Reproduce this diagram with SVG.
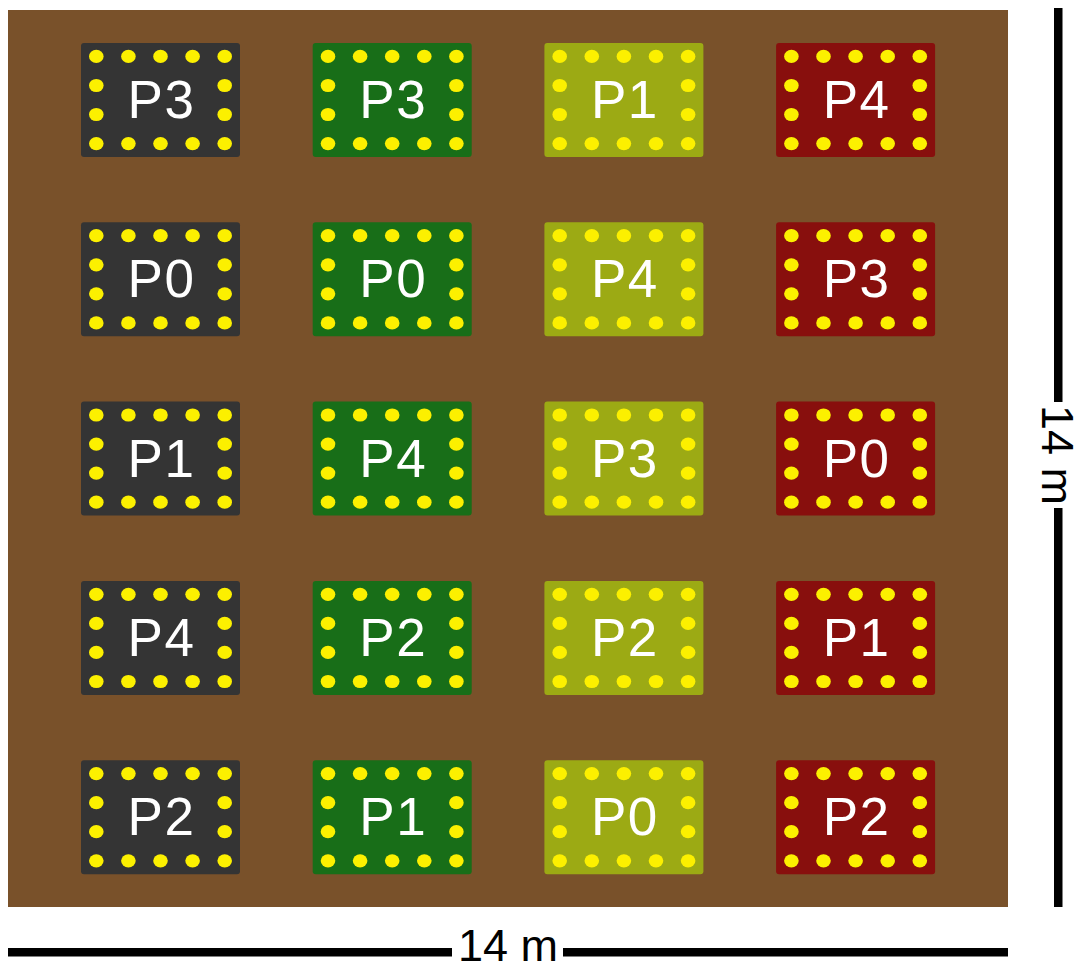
<svg xmlns="http://www.w3.org/2000/svg" xmlns:xlink="http://www.w3.org/1999/xlink" width="1086" height="971" viewBox="0 0 1086 971">
<style>
.plot{stroke:none}
.c1{fill:#343434}
.c2{fill:#186E18}
.c3{fill:#9CAA14}
.c4{fill:#880F0D}
.dot{fill:#FCF000}
.lbl{font-family:"Liberation Sans",Arial,sans-serif;font-size:53px;fill:#FFFFFF;text-anchor:middle;letter-spacing:1.5px}
.scale{font-family:"Liberation Sans",Arial,sans-serif;font-size:45px;fill:#000000;text-anchor:middle}
.bar{fill:#000000}
</style>
<defs>
<g id="dots">
<ellipse class="dot" cx="15.3" cy="13.4" rx="7.3" ry="6.6"/>
<ellipse class="dot" cx="47.4" cy="13.4" rx="7.3" ry="6.6"/>
<ellipse class="dot" cx="79.5" cy="13.4" rx="7.3" ry="6.6"/>
<ellipse class="dot" cx="111.6" cy="13.4" rx="7.3" ry="6.6"/>
<ellipse class="dot" cx="143.7" cy="13.4" rx="7.3" ry="6.6"/>
<ellipse class="dot" cx="15.3" cy="42.5" rx="7.3" ry="6.6"/>
<ellipse class="dot" cx="143.7" cy="42.5" rx="7.3" ry="6.6"/>
<ellipse class="dot" cx="15.3" cy="71.5" rx="7.3" ry="6.6"/>
<ellipse class="dot" cx="143.7" cy="71.5" rx="7.3" ry="6.6"/>
<ellipse class="dot" cx="15.3" cy="100.6" rx="7.3" ry="6.6"/>
<ellipse class="dot" cx="47.4" cy="100.6" rx="7.3" ry="6.6"/>
<ellipse class="dot" cx="79.5" cy="100.6" rx="7.3" ry="6.6"/>
<ellipse class="dot" cx="111.6" cy="100.6" rx="7.3" ry="6.6"/>
<ellipse class="dot" cx="143.7" cy="100.6" rx="7.3" ry="6.6"/>
</g>
</defs>
<rect x="0" y="0" width="1086" height="971" fill="#FFFFFF"/>
<rect id="field" x="8" y="10" width="1000" height="897" fill="#79512A"/>

<g id="plot-1-1" transform="translate(81,43)"><rect class="plot c1" width="159" height="114" rx="3"/><use xlink:href="#dots" href="#dots"/><text class="lbl" x="80.5" y="75">P3</text></g>
<g id="plot-1-2" transform="translate(81,222.3)"><rect class="plot c1" width="159" height="114" rx="3"/><use xlink:href="#dots" href="#dots"/><text class="lbl" x="80.5" y="75">P0</text></g>
<g id="plot-1-3" transform="translate(81,401.6)"><rect class="plot c1" width="159" height="114" rx="3"/><use xlink:href="#dots" href="#dots"/><text class="lbl" x="80.5" y="75">P1</text></g>
<g id="plot-1-4" transform="translate(81,580.9)"><rect class="plot c1" width="159" height="114" rx="3"/><use xlink:href="#dots" href="#dots"/><text class="lbl" x="80.5" y="75">P4</text></g>
<g id="plot-1-5" transform="translate(81,760.2)"><rect class="plot c1" width="159" height="114" rx="3"/><use xlink:href="#dots" href="#dots"/><text class="lbl" x="80.5" y="75">P2</text></g>

<g id="plot-2-1" transform="translate(312.7,43)"><rect class="plot c2" width="159" height="114" rx="3"/><use xlink:href="#dots" href="#dots"/><text class="lbl" x="80.5" y="75">P3</text></g>
<g id="plot-2-2" transform="translate(312.7,222.3)"><rect class="plot c2" width="159" height="114" rx="3"/><use xlink:href="#dots" href="#dots"/><text class="lbl" x="80.5" y="75">P0</text></g>
<g id="plot-2-3" transform="translate(312.7,401.6)"><rect class="plot c2" width="159" height="114" rx="3"/><use xlink:href="#dots" href="#dots"/><text class="lbl" x="80.5" y="75">P4</text></g>
<g id="plot-2-4" transform="translate(312.7,580.9)"><rect class="plot c2" width="159" height="114" rx="3"/><use xlink:href="#dots" href="#dots"/><text class="lbl" x="80.5" y="75">P2</text></g>
<g id="plot-2-5" transform="translate(312.7,760.2)"><rect class="plot c2" width="159" height="114" rx="3"/><use xlink:href="#dots" href="#dots"/><text class="lbl" x="80.5" y="75">P1</text></g>

<g id="plot-3-1" transform="translate(544.4,43)"><rect class="plot c3" width="159" height="114" rx="3"/><use xlink:href="#dots" href="#dots"/><text class="lbl" x="80.5" y="75">P1</text></g>
<g id="plot-3-2" transform="translate(544.4,222.3)"><rect class="plot c3" width="159" height="114" rx="3"/><use xlink:href="#dots" href="#dots"/><text class="lbl" x="80.5" y="75">P4</text></g>
<g id="plot-3-3" transform="translate(544.4,401.6)"><rect class="plot c3" width="159" height="114" rx="3"/><use xlink:href="#dots" href="#dots"/><text class="lbl" x="80.5" y="75">P3</text></g>
<g id="plot-3-4" transform="translate(544.4,580.9)"><rect class="plot c3" width="159" height="114" rx="3"/><use xlink:href="#dots" href="#dots"/><text class="lbl" x="80.5" y="75">P2</text></g>
<g id="plot-3-5" transform="translate(544.4,760.2)"><rect class="plot c3" width="159" height="114" rx="3"/><use xlink:href="#dots" href="#dots"/><text class="lbl" x="80.5" y="75">P0</text></g>

<g id="plot-4-1" transform="translate(776.1,43)"><rect class="plot c4" width="159" height="114" rx="3"/><use xlink:href="#dots" href="#dots"/><text class="lbl" x="80.5" y="75">P4</text></g>
<g id="plot-4-2" transform="translate(776.1,222.3)"><rect class="plot c4" width="159" height="114" rx="3"/><use xlink:href="#dots" href="#dots"/><text class="lbl" x="80.5" y="75">P3</text></g>
<g id="plot-4-3" transform="translate(776.1,401.6)"><rect class="plot c4" width="159" height="114" rx="3"/><use xlink:href="#dots" href="#dots"/><text class="lbl" x="80.5" y="75">P0</text></g>
<g id="plot-4-4" transform="translate(776.1,580.9)"><rect class="plot c4" width="159" height="114" rx="3"/><use xlink:href="#dots" href="#dots"/><text class="lbl" x="80.5" y="75">P1</text></g>
<g id="plot-4-5" transform="translate(776.1,760.2)"><rect class="plot c4" width="159" height="114" rx="3"/><use xlink:href="#dots" href="#dots"/><text class="lbl" x="80.5" y="75">P2</text></g>

<g id="scale-bottom">
<rect class="bar" x="8" y="948" width="444" height="8.5"/>
<rect class="bar" x="563" y="948" width="445" height="8.5"/>
<text class="scale" x="508" y="961">14 m</text>
</g>
<g id="scale-right">
<rect class="bar" x="1054" y="8" width="8.5" height="394"/>
<rect class="bar" x="1054" y="508" width="8.5" height="399"/>
<text class="scale" transform="translate(1042,455) rotate(90)" x="0" y="0">14 m</text>
</g>
</svg>
